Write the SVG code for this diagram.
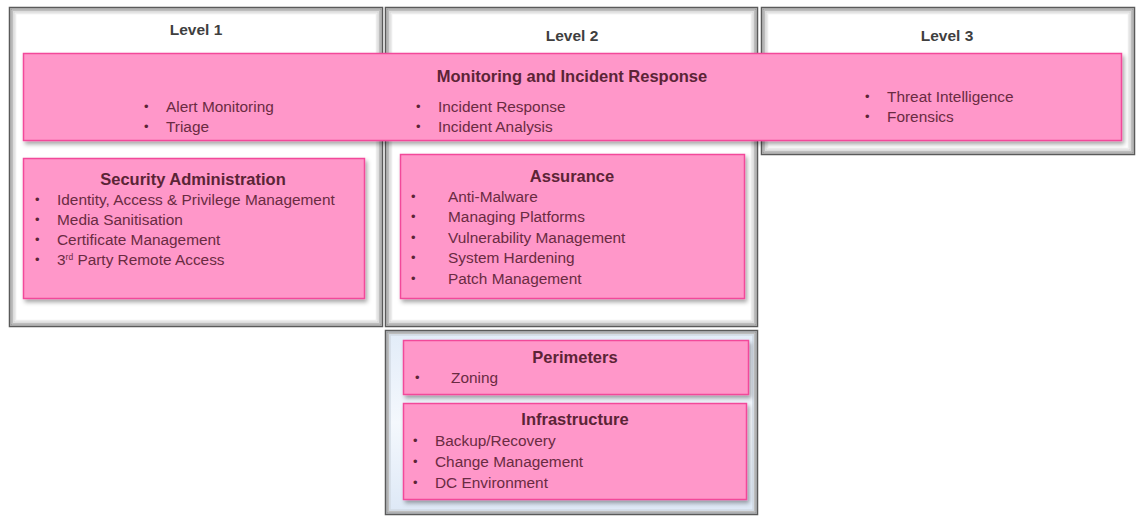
<svg xmlns="http://www.w3.org/2000/svg" width="1138" height="516" viewBox="0 0 1138 516">
<defs>
<style>
.b1{fill:#ffffff;stroke:#5a5a5a;stroke-width:1.5}
.b2{fill:none;stroke:#9a9a9a;stroke-width:1.5}
.b3{fill:none;stroke:#bdbdbd;stroke-width:1.5}
.b4{fill:none;stroke:#d8d8d8;stroke-width:1.5}
.b5{fill:none;stroke:#ececec;stroke-width:1.5}
.pk{fill:#ff97c9;stroke:#f2489a;stroke-width:1.5;filter:url(#sh)}
.lv{font-family:"Liberation Sans",Arial,sans-serif;font-weight:bold;font-size:15.5px;fill:#3f3f3f;text-anchor:middle}
.tt{font-family:"Liberation Sans",Arial,sans-serif;font-weight:bold;font-size:16.5px;fill:#5b2436;text-anchor:middle}
.it{font-family:"Liberation Sans",Arial,sans-serif;font-size:15.4px;fill:#6a2b42}
.bl{font-family:"Liberation Sans",Arial,sans-serif;font-size:13px;fill:#5b2436}
</style>
<filter id="sh" x="-5%" y="-10%" width="112%" height="130%">
<feDropShadow dx="2" dy="3" stdDeviation="2" flood-color="#000" flood-opacity="0.35"/>
</filter>
<linearGradient id="blue" x1="0" y1="0" x2="0" y2="1">
<stop offset="0" stop-color="#e2ecf8"/>
<stop offset="0.5" stop-color="#f4f8fd"/>
<stop offset="1" stop-color="#dde8f6"/>
</linearGradient>
</defs>

<g id="level1">
<rect class="b1" x="9.5" y="7.5" width="373" height="319"/>
<rect class="b2" x="11" y="9" width="370" height="316"/>
<rect class="b3" x="12.5" y="10.5" width="367" height="313"/>
<rect class="b4" x="14" y="12" width="364" height="310"/>
<rect class="b5" x="15.5" y="13.5" width="361" height="307"/>
<text class="lv" x="196" y="35">Level 1</text>
</g>

<g id="level2">
<rect class="b1" x="385.5" y="7.5" width="372" height="319"/>
<rect class="b2" x="387" y="9" width="369" height="316"/>
<rect class="b3" x="388.5" y="10.5" width="366" height="313"/>
<rect class="b4" x="390" y="12" width="363" height="310"/>
<rect class="b5" x="391.5" y="13.5" width="360" height="307"/>
<text class="lv" x="572" y="41">Level 2</text>
</g>

<g id="level3">
<rect class="b1" x="761.5" y="7.5" width="373" height="147"/>
<rect class="b2" x="763" y="9" width="370" height="144"/>
<rect class="b3" x="764.5" y="10.5" width="367" height="141"/>
<rect class="b4" x="766" y="12" width="364" height="138"/>
<rect class="b5" x="767.5" y="13.5" width="361" height="135"/>
<text class="lv" x="947" y="41">Level 3</text>
</g>

<g id="level2-lower">
<rect x="385.5" y="330.5" width="372" height="184" fill="url(#blue)" stroke="#5a5a5a" stroke-width="1.5"/>
<rect class="b2" x="387" y="332" width="369" height="181"/>
<rect class="b3" x="388.5" y="333.5" width="366" height="178"/>
<rect x="390" y="335" width="363" height="175" fill="none" stroke="#d2dae4" stroke-width="1.5"/>
</g>

<g id="monitoring">
<rect class="pk" x="23.5" y="53.5" width="1098" height="87"/>
<text class="tt" x="572" y="82">Monitoring and Incident Response</text>
<text class="bl" x="144" y="111">•</text>
<text class="it" x="166" y="112">Alert Monitoring</text>
<text class="bl" x="144" y="131">•</text>
<text class="it" x="166" y="132">Triage</text>
<text class="bl" x="416" y="111">•</text>
<text class="it" x="438" y="112">Incident Response</text>
<text class="bl" x="416" y="131">•</text>
<text class="it" x="438" y="132">Incident Analysis</text>
<text class="bl" x="865" y="101">•</text>
<text class="it" x="887" y="102">Threat Intelligence</text>
<text class="bl" x="865" y="121">•</text>
<text class="it" x="887" y="122">Forensics</text>
</g>

<g id="security-administration">
<rect class="pk" x="23.5" y="158.5" width="341" height="140"/>
<text class="tt" x="193" y="185">Security Administration</text>
<text class="bl" x="35" y="204">•</text>
<text class="it" x="57" y="205">Identity, Access &amp; Privilege Management</text>
<text class="bl" x="35" y="224">•</text>
<text class="it" x="57" y="225">Media Sanitisation</text>
<text class="bl" x="35" y="244">•</text>
<text class="it" x="57" y="245">Certificate Management</text>
<text class="bl" x="35" y="264">•</text>
<text class="it" x="57" y="265">3<tspan font-size="8.5" dy="-5">rd</tspan><tspan dy="5"> Party Remote Access</tspan></text>
</g>

<g id="assurance">
<rect class="pk" x="400.5" y="154.5" width="344" height="144"/>
<text class="tt" x="572" y="182">Assurance</text>
<text class="bl" x="411" y="201">•</text>
<text class="it" x="448" y="202">Anti-Malware</text>
<text class="bl" x="411" y="221">•</text>
<text class="it" x="448" y="222">Managing Platforms</text>
<text class="bl" x="411" y="242">•</text>
<text class="it" x="448" y="243">Vulnerability Management</text>
<text class="bl" x="411" y="262">•</text>
<text class="it" x="448" y="263">System Hardening</text>
<text class="bl" x="411" y="283">•</text>
<text class="it" x="448" y="284">Patch Management</text>
</g>

<g id="perimeters">
<rect class="pk" x="403.5" y="340.5" width="345" height="54"/>
<text class="tt" x="575" y="363">Perimeters</text>
<text class="bl" x="415" y="382">•</text>
<text class="it" x="451" y="383">Zoning</text>
</g>

<g id="infrastructure">
<rect class="pk" x="403.5" y="403.5" width="343" height="96"/>
<text class="tt" x="575" y="425">Infrastructure</text>
<text class="bl" x="413" y="445">•</text>
<text class="it" x="435" y="446">Backup/Recovery</text>
<text class="bl" x="413" y="466">•</text>
<text class="it" x="435" y="467">Change Management</text>
<text class="bl" x="413" y="487">•</text>
<text class="it" x="435" y="488">DC Environment</text>
</g>

<g id="connectors"></g>
</svg>
